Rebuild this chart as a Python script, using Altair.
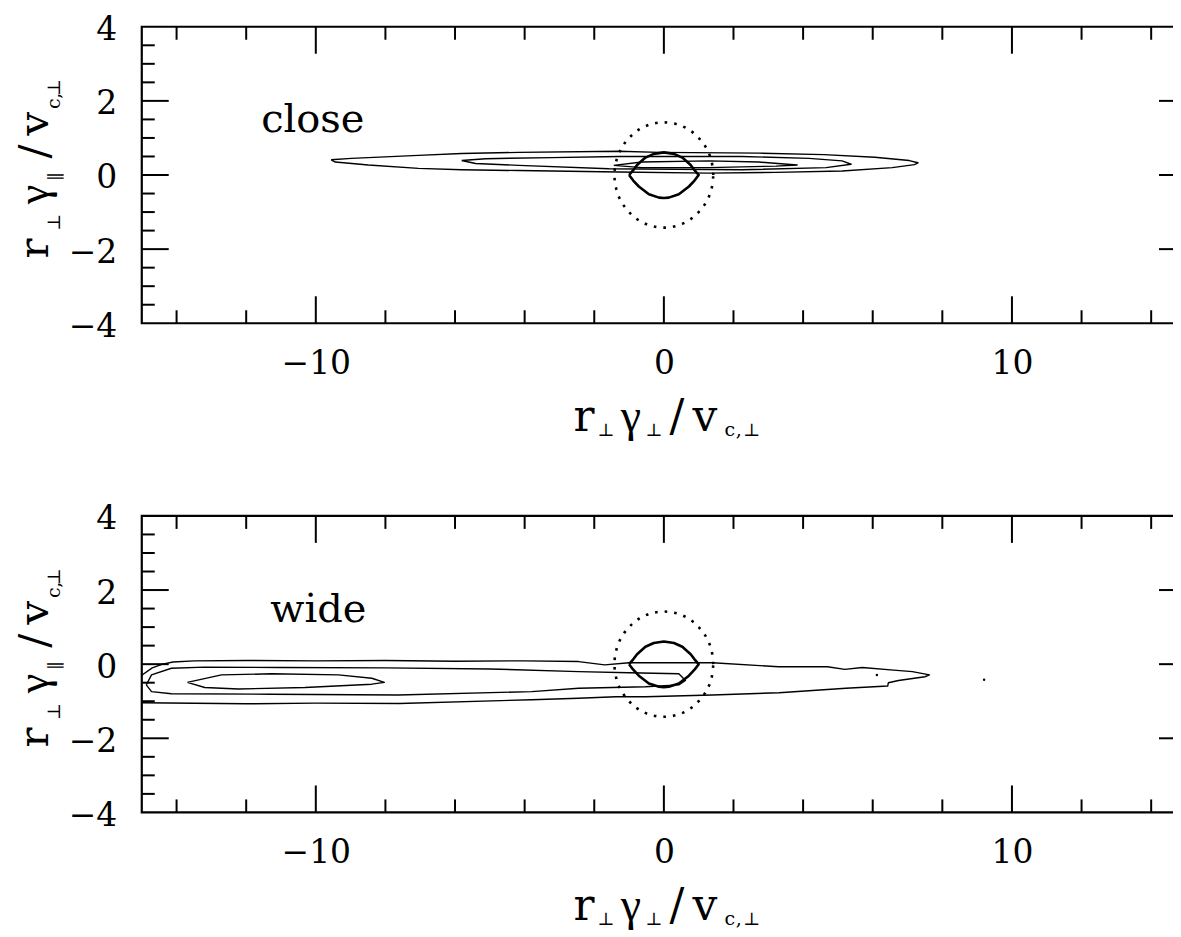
import altair as alt
import pandas as pd

# ---------------- data ----------------
x_labels = [-10, 0, 10]
y_labels = [-4, -2, 0, 2, 4]
x_major = [-10, 0, 10]
x_minor = [-14, -12, -8, -6, -4, -2, 2, 4, 6, 8, 12, 14]
y_major = [-2, 0, 2]
y_minor = [-3.5, -3, -2.5, -1.5, -1, -0.5, 0.5, 1, 1.5, 2.5, 3, 3.5]

panel_names = ["close", "wide"]
panel_label_x = [-11.57, -11.31]
panel_label_y = [1.15, 1.15]

# "close" panel contours
close_outer_x = [-9.56, -8.98, -7.05, -5.81, -4.17, -1.29, -0.14, 2.73, 4.6, 6.06, 7.05, 7.3,
                 7.2, 6.56, 5.12, 3.22, 1.29, -1.29, -4.17, -5.81, -7.05, -8.49, -9.44, -9.56]
close_outer_y = [0.41, 0.45, 0.53, 0.58, 0.61, 0.64, 0.61, 0.59, 0.55, 0.48, 0.39, 0.33,
                 0.28, 0.20, 0.11, 0.07, 0.05, 0.08, 0.12, 0.14, 0.18, 0.27, 0.35, 0.41]
close_mid_x = [-5.81, -5.12, -3.22, -1.29, 2.24, 4.17, 5.12, 5.38, 4.66, 2.24, -1.58, -4.17, -5.41, -5.81]
close_mid_y = [0.39, 0.44, 0.47, 0.50, 0.50, 0.45, 0.38, 0.29, 0.20, 0.14, 0.17, 0.26, 0.31, 0.39]
close_in_x = [-1.44, -0.63, 1.29, 2.73, 3.83, 3.22, 1.29, -0.63, -1.44]
close_in_y = [0.26, 0.35, 0.38, 0.35, 0.27, 0.24, 0.20, 0.20, 0.26]

# "wide" panel contours
wide_outer_x = [-15.0, -14.7, -14.4, -14.1, -13.5, -12.0, -10.0, -8.0, -6.0, -4.0, -2.45, -1.7, -1.0,
                1.4, 3.3, 4.7, 5.2, 5.7, 6.6, 7.14, 7.63, 7.5, 6.74, 6.45, 6.43, 5.23, 3.31, 1.39,
                -0.53, -1.38, -2.45, -3.8, -7.6, -10.0, -12.0, -15.0]
wide_outer_y = [-0.30, -0.10, 0.00, 0.06, 0.09, 0.10, 0.09, 0.10, 0.08, 0.09, 0.07, -0.02, 0.04,
                0.04, -0.07, -0.07, -0.14, -0.09, -0.16, -0.20, -0.29, -0.34, -0.44, -0.50, -0.59,
                -0.65, -0.77, -0.83, -0.88, -0.88, -0.92, -0.96, -1.06, -1.05, -1.07, -1.04]
wide_mid_x = [-14.87, -14.72, -14.15, -13.19, -11.0, -8.0, -5.0, -2.45, -1.0, 0.43, 0.62, 0.43,
              -0.53, -2.45, -3.8, -7.63, -11.3, -14.15, -14.72, -14.87]
wide_mid_y = [-0.56, -0.29, -0.11, -0.08, -0.09, -0.10, -0.13, -0.20, -0.23, -0.26, -0.44, -0.56,
              -0.61, -0.65, -0.74, -0.83, -0.81, -0.80, -0.74, -0.56]
wide_in_x = [-13.69, -12.71, -11.27, -9.35, -8.39, -8.03, -8.39, -10.31, -12.23, -13.19, -13.69]
wide_in_y = [-0.49, -0.29, -0.26, -0.29, -0.38, -0.49, -0.54, -0.63, -0.67, -0.63, -0.49]
wide_islands_x = [6.12, 9.2]
wide_islands_y = [-0.29, -0.42]

# caustic (lens) outline, same in both panels
lens_x = [-1.0, -0.88, -0.77, -0.53, -0.29, 0.0, 0.29, 0.53, 0.77, 0.88, 1.0,
          0.88, 0.72, 0.43, 0.14, 0.0, -0.14, -0.43, -0.72, -0.88, -1.0]
lens_y = [0.0, 0.13, 0.27, 0.47, 0.57, 0.61, 0.57, 0.47, 0.27, 0.13, 0.0,
          -0.15, -0.31, -0.52, -0.61, -0.62, -0.61, -0.52, -0.31, -0.15, 0.0]

# dotted circle (radius ~1.42)
circle_x = [1.42, 1.37, 1.23, 1.00, 0.71, 0.37, 0.0, -0.37, -0.71, -1.00, -1.23, -1.37,
            -1.42, -1.37, -1.23, -1.00, -0.71, -0.37, 0.0, 0.37, 0.71, 1.00, 1.23, 1.37, 1.42]
circle_y = [0.0, 0.37, 0.71, 1.00, 1.23, 1.37, 1.42, 1.37, 1.23, 1.00, 0.71, 0.37,
            0.0, -0.37, -0.71, -1.00, -1.23, -1.37, -1.42, -1.37, -1.23, -1.00, -0.71, -0.37, 0.0]

# ---------------- layout ----------------
W, H = 1046, 297
XD, YD = [-15, 15], [-4, 4]
FONT = "DejaVu Serif"
GFONT = "Liberation Serif"
MAJ, MIN = 27, 13

xs = alt.Scale(domain=XD, nice=False, zero=False)
ys = alt.Scale(domain=YD, nice=False, zero=False)
xaxis = alt.Axis(values=x_labels, title=None, labelPadding=24, ticks=False, tickSize=0,
                 domain=False, grid=False, labelFontSize=33, labelFont=FONT,
                 labelColor="black", labelBaseline="top")
yaxis = alt.Axis(values=y_labels, title=None, labelPadding=25, ticks=False, tickSize=0,
                 domain=False, grid=False, labelFontSize=33, labelFont=FONT,
                 labelColor="black", labelBaseline="middle", labelOffset=3)

# title glyph layout in pixels relative to the plot area (text, x, y, size, font)
xtitle_glyphs = [("r", 443, 405, 44, FONT), ("⊥", 465, 410, 18, FONT), ("γ", 490, 405, 46, GFONT),
                 ("⊥", 513, 410, 18, FONT), ("/", 536, 405, 44, FONT), ("v", 564, 405, 44, FONT),
                 ("c", 589, 410, 19, FONT), (",", 598, 410, 19, FONT), ("⊥", 611, 410, 18, FONT)]
ytitle_glyphs = [("r", -94, 222, 42, FONT), ("⊥", -82, 196, 18, FONT), ("γ", -94, 168, 44, GFONT),
                 ("∥", -80, 150, 18, FONT), ("/", -94, 125, 42, FONT), ("v", -94, 97, 42, FONT),
                 ("c", -82, 77, 19, FONT), (",", -82, 69, 19, FONT), ("⊥", -82, 61, 18, FONT)]


def px2x(p):
    return p * (XD[1] - XD[0]) / W + XD[0]


def py2y(p):
    return YD[1] - p * (YD[1] - YD[0]) / H


def X(field="x"):
    return alt.X(f"{field}:Q", scale=xs, axis=xaxis)


def Y(field="y"):
    return alt.Y(f"{field}:Q", scale=ys, axis=yaxis)


def contour_df(pieces):
    rows = []
    for name, xx, yy in pieces:
        for i, (a, b) in enumerate(zip(xx, yy)):
            rows.append({"c": name, "i": i, "x": a, "y": b})
    return pd.DataFrame(rows)


def glyph_layers(glyphs, angle):
    out = []
    for font in sorted(set(g[4] for g in glyphs)):
        gg = [g for g in glyphs if g[4] == font]
        d = pd.DataFrame({"t": [g[0] for g in gg],
                          "x": [px2x(g[1]) for g in gg],
                          "y": [py2y(g[2]) for g in gg],
                          "s": [g[3] for g in gg]})
        kw = dict(align="center", baseline="alphabetic", font=font, color="black")
        if angle:
            kw["angle"] = angle
        out.append(alt.Chart(d).mark_text(**kw).encode(
            x=X(), y=Y(), text="t:N", size=alt.Size("s:Q", scale=None, legend=None)))
    return out


def panel(k, pieces, islands=None):
    layers = []
    layers.append(alt.Chart(contour_df(pieces)).mark_line(
        color="black", strokeWidth=1.4, clip=True, strokeJoin="round").encode(
        x=X(), y=Y(), detail="c:N", order="i:Q"))
    layers.append(alt.Chart(pd.DataFrame({"x": lens_x, "y": lens_y, "i": range(len(lens_x))}))
                  .mark_line(color="black", strokeWidth=2.6, strokeJoin="round")
                  .encode(x=X(), y=Y(), order="i:Q"))
    layers.append(alt.Chart(pd.DataFrame({"x": circle_x, "y": circle_y, "i": range(len(circle_x))}))
                  .mark_line(color="black", strokeWidth=2.6, strokeDash=[2.6, 7],
                             interpolate="cardinal")
                  .encode(x=X(), y=Y(), order="i:Q"))
    if islands is not None:
        layers.append(alt.Chart(pd.DataFrame({"x": islands[0], "y": islands[1]}))
                      .mark_point(filled=True, color="black", size=6, opacity=1)
                      .encode(x=X(), y=Y()))
    # inward ticks on all four sides
    for vals, L in [(x_major, MAJ), (x_minor, MIN)]:
        d = pd.DataFrame({"x": vals})
        layers.append(alt.Chart(d).mark_rule(color="black", strokeWidth=2).encode(
            x=X(), y=alt.value(0), y2=alt.value(L)))
        layers.append(alt.Chart(d).mark_rule(color="black", strokeWidth=2).encode(
            x=X(), y=alt.value(H), y2=alt.value(H - L)))
    for vals, L in [(y_major, MAJ), (y_minor, MIN)]:
        d = pd.DataFrame({"y": vals})
        layers.append(alt.Chart(d).mark_rule(color="black", strokeWidth=2).encode(
            y=Y(), x=alt.value(0), x2=alt.value(L)))
        layers.append(alt.Chart(d).mark_rule(color="black", strokeWidth=2).encode(
            y=Y(), x=alt.value(W), x2=alt.value(W - L)))
    # panel label
    layers.append(alt.Chart(pd.DataFrame({"x": [panel_label_x[k]], "y": [panel_label_y[k]],
                                          "t": [panel_names[k]]}))
                  .mark_text(align="left", baseline="alphabetic", font=FONT, fontSize=40,
                             color="black")
                  .encode(x=X(), y=Y(), text="t:N"))
    # axis titles built from glyphs (to get subscripts)
    layers += glyph_layers(xtitle_glyphs, 0)
    layers += glyph_layers(ytitle_glyphs, 270)
    return alt.layer(*layers).properties(width=W, height=H)


top = panel(0, [("outer", close_outer_x, close_outer_y),
                ("mid", close_mid_x, close_mid_y),
                ("in", close_in_x, close_in_y)])
bottom = panel(1, [("outer", wide_outer_x, wide_outer_y),
                   ("mid", wide_mid_x, wide_mid_y),
                   ("in", wide_in_x, wide_in_y)],
               islands=(wide_islands_x, wide_islands_y))

chart = (alt.vconcat(top, bottom, spacing=59)
         .properties(padding={"left": 3, "top": 3, "right": -16, "bottom": 0},
                     background="white")
         .configure_view(stroke="black", strokeWidth=2.2))

chart.save("out.html", embed_options={"renderer": "svg", "actions": False})
